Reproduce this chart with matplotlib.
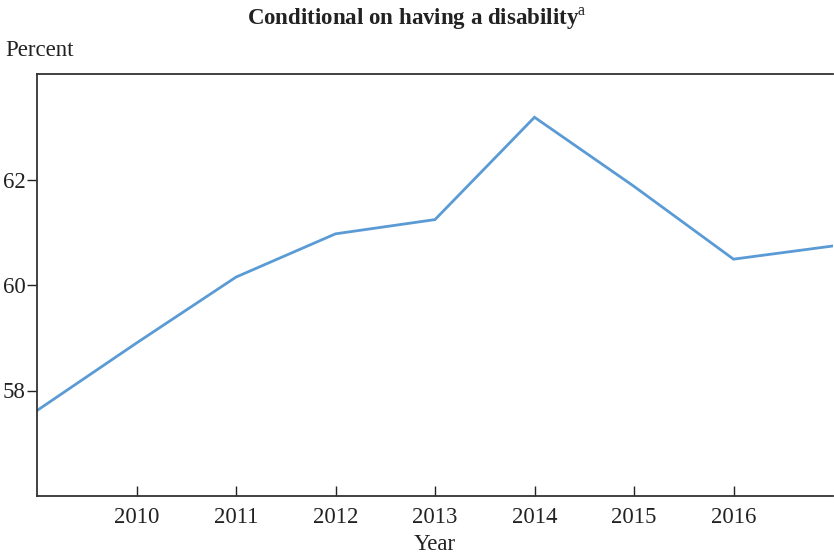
import matplotlib.pyplot as plt

# share of people with a disability, by year
years = [2009, 2010, 2011, 2012, 2013, 2014, 2015, 2016, 2017]
percent = [57.62, 58.90, 60.15, 60.97, 61.24, 63.18, 61.87, 60.49, 60.74]
ytick_vals = [58, 60, 62]
xtick_vals = [2010, 2011, 2012, 2013, 2014, 2015, 2016]

plt.rcParams['font.family'] = ['Liberation Serif', 'DejaVu Serif']
plt.rcParams['mathtext.fontset'] = 'custom'
plt.rcParams['mathtext.rm'] = 'Liberation Serif'

fig = plt.figure(figsize=(8.34, 5.57), dpi=100)
ax = fig.add_axes([37 / 834, 1 - 496 / 557, 796 / 834, 422 / 557])

ax.plot(years, percent, color='#5B9BD5', linewidth=2.0, solid_joinstyle='miter')

ax.set_xlim(2009, 2017)
ax.set_ylim(56, 64)
ax.set_xticks(xtick_vals)
ax.set_yticks(ytick_vals)
ax.tick_params(axis='x', direction='in', length=7, width=1, labelsize=16.5,
               pad=8, colors='#222222')
ax.tick_params(axis='y', direction='out', length=7, width=1, labelsize=16.5,
               pad=1, colors='#222222')

ax.spines['right'].set_visible(False)
for side in ['left', 'top', 'bottom']:
    ax.spines[side].set_linewidth(1.3)
    ax.spines[side].set_color('#333333')

# axis labels placed in figure coordinates
fig.text(ax.get_position().x0 + ax.get_position().width / 2, 1 - 545 / 557, 'Year',
         fontsize=16.5, color='#222222', ha='center', va='center')
fig.text(5 / 834, 1 - 50 / 557, 'Percent', fontsize=16.5, color='#222222',
         ha='left', va='center')
fig.text(0.5, 1 - 19 / 557, r'Conditional on having a disability$^{\mathrm{a}}$',
         fontsize=16.5, fontweight='bold', color='#222222', ha='center', va='center')

fig.savefig('out.png', dpi=100)
